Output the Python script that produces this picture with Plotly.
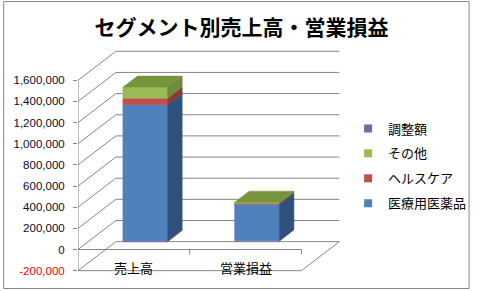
import plotly.graph_objects as go

# ---------------- data ----------------
categories = ["売上高", "営業損益"]
series_names = ["医療用医薬品", "ヘルスケア", "その他", "調整額"]
pharma = [1287000, 345000]
healthcare = [61000, 9500]
other = [104000, 9000]
adjustment = [-9000, -3000]
tick_values = [-200000, 0, 200000, 400000, 600000, 800000, 1000000,
               1200000, 1400000, 1600000]
tick_labels = ["-200,000", "0", "200,000", "400,000", "600,000", "800,000",
               "1,000,000", "1,200,000", "1,400,000", "1,600,000"]

series_values = [pharma, healthcare, other, adjustment]

# ---------------- styles ----------------
front_colors = ["#4F81BD", "#C0504D", "#9BBB59", "#8064A2"]
side_colors = ["#30517A", "#8A3937", "#6F8A3D", "#5B4878"]
top_colors = ["#3F6797", "#A24441", "#77933C", "#6C5690"]
GRID = "#868686"
JP = "Noto Sans CJK JP"

# ---------------- geometry (pixels -> data units) ----------------
W, H = 483, 291
ML, MR, MT, MB = 78, 123, 40, 11
plot_w = W - ML - MR
plot_h = H - MT - MB
CAT_PX = 115.0                 # pixels per category
VAL_PX = 21.15 / 200000.0      # pixels per value unit
ZERO_PX = 249.5                # pixel row of value 0 on the front plane
x_min = -0.5
x_max = x_min + plot_w / CAT_PX
y_min = -(H - MB - ZERO_PX) / VAL_PX
y_max = (ZERO_PX - MT) / VAL_PX
DX = 39.0 / CAT_PX             # depth offset (x) of back wall
DY = 29.0 / VAL_PX             # depth offset (y) of back wall
F0, F1 = 0.30, 0.685           # bar front/back depth fractions
HW = 23.0 / CAT_PX             # bar half width
TICK5 = 5.0 / VAL_PX

fig = go.Figure()


def add_lines(segs, color=GRID, width=1):
    xs, ys = [], []
    for (xa, ya), (xb, yb) in segs:
        xs += [xa, xb, None]
        ys += [ya, yb, None]
    fig.add_trace(go.Scatter(x=xs, y=ys, mode="lines",
                             line=dict(color=color, width=width),
                             hoverinfo="skip", showlegend=False))


def add_poly(pts, color):
    xs = [p[0] for p in pts] + [pts[0][0]]
    ys = [p[1] for p in pts] + [pts[0][1]]
    fig.add_trace(go.Scatter(x=xs, y=ys, mode="lines", fill="toself",
                             fillcolor=color, line=dict(color=color, width=0.5),
                             hoverinfo="skip", showlegend=False))


# walls / gridlines
n_cat = len(categories)
x_right = x_min + n_cat
segs = []
for v in tick_values:
    segs.append(((x_min, v), (x_min + DX, v + DY)))
    segs.append(((x_min + DX, v + DY), (x_right + DX, v + DY)))
add_lines(segs)

# floor edges, front value axis, category axis
lo, hi = tick_values[0], tick_values[-1]
segs = [((x_min, lo), (x_right, lo)),
        ((x_right, lo), (x_right + DX, lo + DY)),
        ((x_min, lo), (x_min, hi)),
        ((x_min, 0), (x_right, 0))]
for k in range(1, n_cat + 1):
    segs.append(((x_min + k, 0), (x_min + k, -TICK5)))
add_lines(segs)

# bars
for i in range(n_cat):
    pos, neg = 0.0, 0.0
    segments = []
    for s, vals in enumerate(series_values):
        v = vals[i]
        if v >= 0:
            segments.append((pos, pos + v, s))
            pos += v
        else:
            segments.append((neg + v, neg, s))
            neg += v
    segments.sort(key=lambda t: t[0])
    xl_f = i - HW + F0 * DX
    xr_f = i + HW + F0 * DX
    xl_b = i - HW + F1 * DX
    xr_b = i + HW + F1 * DX
    for y0, y1, s in segments:
        if y1 - y0 <= 0:
            continue
        y0f, y1f = y0 + F0 * DY, y1 + F0 * DY
        y0b, y1b = y0 + F1 * DY, y1 + F1 * DY
        add_poly([(xl_f, y0f), (xr_f, y0f), (xr_f, y1f), (xl_f, y1f)], front_colors[s])
        add_poly([(xr_f, y0f), (xr_b, y0b), (xr_b, y1b), (xr_f, y1f)], side_colors[s])
    y0, y1, s = max(segments, key=lambda t: t[1])
    y1f, y1b = y1 + F0 * DY, y1 + F1 * DY
    add_poly([(xl_f, y1f), (xr_f, y1f), (xr_b, y1b), (xl_b, y1b)], top_colors[s])

# legend entries (top to bottom: reverse of stacking order)
for s in reversed(range(len(series_names))):
    fig.add_trace(go.Scatter(x=[None], y=[None], mode="markers",
                             marker=dict(symbol="square", size=8, color=front_colors[s]),
                             name=series_names[s], legendgroup=series_names[s],
                             showlegend=True))

# category labels
for i, c in enumerate(categories):
    fig.add_annotation(x=i, y=-165500, text=c, showarrow=False,
                       font=dict(family=JP, size=13, color="#000000"),
                       xanchor="center", yanchor="middle")

ticktext = [f'<span style="color:#FF0000">{t}</span>' if v < 0 else t
            for v, t in zip(tick_values, tick_labels)]

fig.update_layout(
    width=W, height=H,
    margin=dict(l=ML, r=MR, t=MT, b=MB, pad=0),
    paper_bgcolor="white", plot_bgcolor="white",
    title=dict(text="<b>セグメント別売上高・営業損益</b>", x=0.5, xref="container",
               xanchor="center", y=1 - 28 / H, yanchor="middle",
               font=dict(family=JP, size=21, color="#000000")),
    xaxis=dict(range=[x_min, x_max], visible=False, fixedrange=True),
    yaxis=dict(range=[y_min, y_max], tickvals=tick_values, ticktext=ticktext,
               ticks="outside", ticklen=4, tickcolor=GRID, showline=False,
               showgrid=False, zeroline=False, ticklabelstandoff=6,
               tickfont=dict(family="Liberation Sans", size=11.5, color="#0A0A28"),
               fixedrange=True),
    legend=dict(x=(356 - ML) / plot_w, xanchor="left",
                y=(H - MB - 166) / plot_h, yanchor="middle",
                traceorder="grouped", tracegroupgap=5,
                font=dict(family=JP, size=13, color="#000000"),
                bgcolor="rgba(0,0,0,0)", borderwidth=0),
    showlegend=True,
    shapes=[dict(type="rect", xref="paper", yref="paper",
                 x0=(1.5 - ML) / plot_w, x1=(480.5 - ML) / plot_w,
                 y0=(H - MB - 288.5) / plot_h, y1=(H - MB - 1.5) / plot_h,
                 line=dict(color=GRID, width=1), layer="below")],
)

fig.write_html("out.html", config={"displayModeBar": False})
